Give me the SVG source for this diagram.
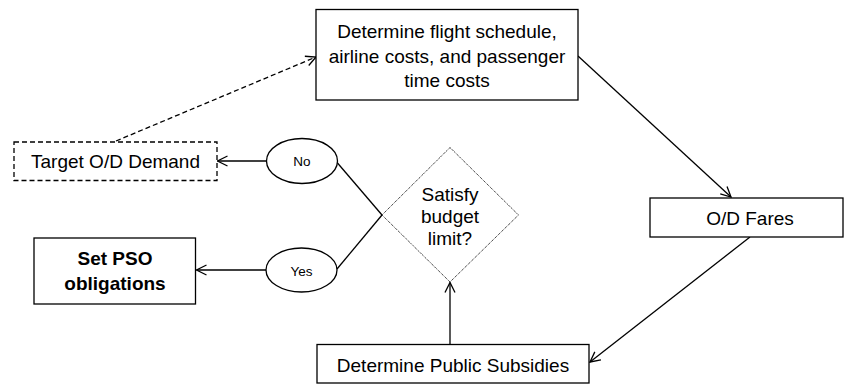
<svg xmlns="http://www.w3.org/2000/svg" width="844" height="385" viewBox="0 0 844 385">
<style>
  .box { fill: #fff; stroke: #000; stroke-width: 1.3; }
  .dashbox { fill: #fff; stroke: #000; stroke-width: 1.3; stroke-dasharray: 5 3; }
  .dia { fill: #fff; stroke: #000; stroke-width: 1; stroke-dasharray: 1 1; }
  .t { font-family: "Liberation Sans", Arial, sans-serif; font-size: 19px; fill: #000; text-anchor: middle; }
  .tb { font-family: "Liberation Sans", Arial, sans-serif; font-size: 19px; font-weight: bold; fill: #000; text-anchor: middle; }
  .ts { font-family: "Liberation Sans", Arial, sans-serif; font-size: 13.5px; fill: #000; text-anchor: middle; }
  .c { fill: none; stroke: #000; stroke-width: 1.3; }
  .cd { fill: none; stroke: #000; stroke-width: 1.3; stroke-dasharray: 5 3; }
</style>
<defs>
  <marker id="arr" markerUnits="userSpaceOnUse" markerWidth="14" markerHeight="14" refX="11" refY="6" orient="auto" viewBox="0 0 14 12">
    <path d="M1,1 L11,6 L1,11" fill="none" stroke="#000" stroke-width="1.3"/>
  </marker>
</defs>
<rect width="844" height="385" fill="#fff"/>

<g id="connectors">
  <path class="c" d="M578,56 L731,197" marker-end="url(#arr)"/>
  <path class="c" d="M750,237 L590,362" marker-end="url(#arr)"/>
  <path class="c" d="M450,344 L450,282.5" marker-end="url(#arr)"/>
  <path class="c" d="M382,215 L337.5,163"/>
  <path class="c" d="M382,215 L337,269"/>
  <path class="c" d="M267,161 L217.5,161" marker-end="url(#arr)"/>
  <path class="c" d="M266,270 L196.5,270" marker-end="url(#arr)"/>
  <path class="cd" d="M116,141 L316,57" marker-end="url(#arr)"/>
</g>

<g id="flight-schedule">
  <rect class="box" x="316" y="9.5" width="262" height="90.5"/>
  <text class="t" x="447" y="38">Determine flight schedule,</text>
  <text class="t" x="447" y="62.5">airline costs, and passenger</text>
  <text class="t" x="447" y="87">time costs</text>
</g>

<g id="od-fares">
  <rect class="box" x="650" y="198" width="193" height="39"/>
  <text class="t" x="750" y="224.5">O/D Fares</text>
</g>

<g id="public-subsidies">
  <rect class="box" x="317" y="344.5" width="272" height="38.5"/>
  <text class="t" x="453" y="371.5">Determine Public Subsidies</text>
</g>

<g id="budget-decision">
  <polygon class="dia" points="450,147.5 518.5,215 450,282 382,215"/>
  <text class="t" x="450" y="201">Satisfy</text>
  <text class="t" x="450" y="222.5">budget</text>
  <text class="t" x="450" y="245">limit?</text>
</g>

<g id="no">
  <ellipse class="box" cx="302" cy="161" rx="35.5" ry="22.5"/>
  <text class="ts" x="302" y="166">No</text>
</g>

<g id="yes">
  <ellipse class="box" cx="301.5" cy="270" rx="35.5" ry="22"/>
  <text class="ts" x="301.5" y="275.5">Yes</text>
</g>

<g id="target-demand">
  <rect class="dashbox" x="14" y="142" width="203" height="38.5"/>
  <text class="t" x="115.5" y="168">Target O/D Demand</text>
</g>

<g id="set-pso">
  <rect class="box" x="34" y="238" width="161.5" height="66"/>
  <text class="tb" x="115" y="265">Set PSO</text>
  <text class="tb" x="115" y="290">obligations</text>
</g>
</svg>
